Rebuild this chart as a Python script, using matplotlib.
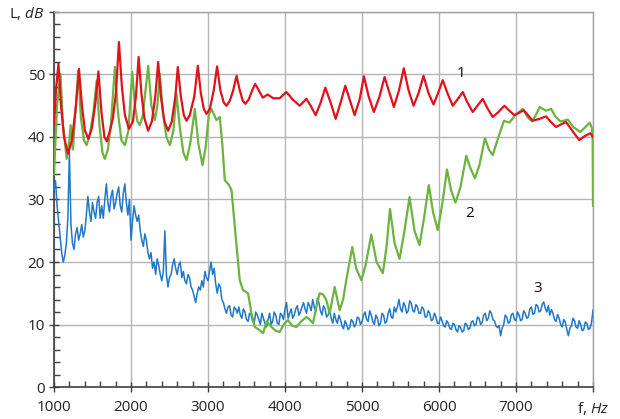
import numpy as np
import matplotlib
matplotlib.use("Agg")
import matplotlib.pyplot as plt
from matplotlib.ticker import MultipleLocator

# ---- data ----
red_f = [1000, 1026, 1058, 1091, 1130, 1182, 1233, 1285, 1324, 1363, 1402, 1447, 1493, 1538, 1577,
         1616, 1655, 1687, 1726, 1765, 1804, 1843, 1882, 1921, 1973, 2025, 2064, 2099, 2135, 2174,
         2223, 2271, 2316, 2353, 2388, 2433, 2482, 2530, 2576, 2608, 2647, 2686, 2721, 2764, 2822,
         2868, 2907, 2946, 2981, 3024, 3075, 3118, 3160, 3205, 3240, 3283, 3328, 3371, 3412, 3451,
         3484, 3529, 3575, 3613, 3711, 3776, 3847, 3931, 4018, 4100, 4191, 4278, 4333, 4398, 4463,
         4524, 4593, 4658, 4722, 4783, 4839, 4904, 4969, 5025, 5086, 5154, 5228, 5293, 5358, 5414,
         5481, 5543, 5604, 5669, 5734, 5799, 5864, 5929, 5987, 6049, 6110, 6179, 6240, 6309, 6370,
         6438, 6499, 6568, 6629, 6698, 6772, 6849, 6914, 6979, 7044, 7100, 7161, 7217, 7303, 7390,
         7453, 7520, 7582, 7650, 7731, 7822, 7874, 7930, 7965, 8000]
red_L = [42, 47.5, 51.8, 45, 40, 37.3, 39.5, 45, 50.9, 45, 41, 39.7, 41.5, 45.5, 50.5,
         44, 40, 39.3, 41, 43, 47, 55.2, 48, 43.5, 41.3, 42.5, 46.5, 52.8, 47, 43,
         41, 42.5, 46.5, 52.0, 46.5, 42.5, 41, 42.5, 46.5, 51.2, 46.5, 43.5, 42.6, 43.5, 46.5,
         51.4, 47, 44.5, 43.7, 44.5, 47.5, 51.3, 47.5, 45.5, 45, 45.8, 47.5, 49.8, 47.5, 45.8,
         45.3, 46, 47.5, 48.5, 46.3, 46.8, 46.2, 46.2, 47.2, 46, 45.0, 46.1, 45, 43.5, 45.5,
         47.9, 45.5, 42.9, 45.5, 48.2, 46, 43.5, 46, 49.7, 46.5, 44.0, 46.5, 49.6, 47, 44.8,
         47.5, 51.0, 47.5, 45.0, 47, 49.8, 47, 45.2, 47, 49.1, 47, 45.0, 46, 47.2, 45.5,
         44.0, 45, 46.1, 44.6, 43.2, 44, 45.0, 44.2, 43.5, 43.9, 44.3, 43.4, 42.6, 42.9, 43.3,
         42.4, 41.6, 42, 42.4, 41, 39.5, 40, 40.4, 40.6, 40.0]

green_f = [1000, 1039, 1084, 1117, 1165, 1195, 1217, 1246, 1279, 1315, 1350, 1389, 1424, 1467, 1512,
           1554, 1590, 1629, 1661, 1700, 1739, 1791, 1830, 1875, 1921, 1966, 2016, 2051, 2083, 2115,
           2154, 2223, 2265, 2310, 2342, 2375, 2414, 2459, 2505, 2550, 2591, 2634, 2680, 2721, 2770,
           2829, 2874, 2929, 2971, 3010, 3045, 3110, 3153, 3185, 3218, 3274, 3305, 3361, 3412, 3455,
           3520, 3564, 3607, 3659, 3715, 3763, 3824, 3879, 3931, 3983, 4039, 4093, 4148, 4210, 4278,
           4320, 4363, 4411, 4450, 4495, 4537, 4580, 4645, 4709, 4755, 4796, 4874, 4923, 4991, 5047,
           5121, 5189, 5271, 5319, 5364, 5423, 5488, 5552, 5617, 5682, 5747, 5805, 5868, 5922, 5984,
           6045, 6104, 6156, 6214, 6279, 6354, 6408, 6467, 6525, 6597, 6648, 6698, 6759, 6843, 6914,
           6992, 7087, 7148, 7206, 7258, 7307, 7390, 7455, 7511, 7576, 7621, 7671, 7744, 7835, 7894,
           7958, 7984, 7995, 8000]
green_L = [34, 45, 50.1, 42, 36.5, 39, 41.9, 38, 44, 50.6, 43, 39.5, 38.7, 40.5, 44,
           49.0, 42, 37.5, 36.5, 38, 42, 51.2, 44, 39.5, 38.7, 41, 50.4, 45, 42.5, 41.9,
           43.5, 51.4, 45, 42.7, 45, 50.1, 44, 40, 38.7, 41, 46.9, 41.5, 37.5, 36.3, 39,
           44.5, 39, 35.5, 38.5, 43.5, 44.5, 42.7, 43.2, 39, 33.1, 32.3, 31.5, 24, 17.1, 15.5,
           15.0, 11.8, 9.6, 9.2, 8.6, 10.5, 9.6, 9.0, 8.8, 10.0, 10.7, 9.8, 9.6, 10.5, 11.2,
           10.8, 10.2, 13, 15.0, 14.8, 13.9, 11.8, 16.0, 12.3, 14, 17.1, 22.4, 19, 17.1, 19.5,
           24.4, 20, 18.2, 22.5, 28.5, 23, 20.5, 25, 30.4, 25, 22.7, 27, 32.3, 28, 25.1,
           29.5, 34.8, 31.5, 29.5, 32, 37.0, 35, 33.4, 35.5, 39.8, 38, 37.1, 39.5, 42.6, 42.3,
           43.5, 44.5, 43.2, 42.5, 43.5, 44.8, 44.2, 44.5, 43.3, 42.5, 42.6, 42.8, 41.6, 40.8, 41.5,
           42.3, 41.5, 40.5, 29]

blue_f = list(range(1000, 8001, 20))
blue_L = [31.5, 33, 29, 26.5, 24, 21.5, 20, 21, 23, 27, 37.5, 26, 23, 22, 24.5, 25.5,
          23.5, 24.5, 26, 24, 25, 27.5, 30.5, 28, 26.5, 29.5, 28, 27, 29.5, 30.5, 27, 29,
          27, 30, 32.5, 29.5, 28, 30.5, 31.5, 28.5, 29.5, 31, 32, 29, 28, 31, 32.5, 29.5,
          27.5, 30, 23.5, 26.5, 29, 27.5, 26.5, 27.5, 25, 23.5, 22.5, 24.5, 23.5, 21.5, 20.5, 21.5,
          19, 20, 18, 20.5, 19.5, 18, 17, 18.5, 25, 18, 16, 17.5, 18, 19.5, 20.5, 19,
          18, 19.5, 20, 17.5, 18.5, 17, 16.5, 18, 17.5, 16, 15.5, 14.5, 13.5, 15, 16, 15.5,
          17, 16, 18.5, 17.5, 17, 18.5, 20, 18, 19, 16.5, 15, 16.5, 16, 14, 13.5, 12.5,
          11.8, 12.8, 13, 11.5, 11.2, 12.8, 12.5, 11.8, 12.8, 11.5, 11, 12.5, 12, 10.8, 10.5, 11.8,
          11.5, 10.5, 10.2, 12, 11.5, 10.8, 10, 11.8, 11, 10.2, 9.6, 10.8, 11.8, 10, 10.5, 12,
          11.5, 10.2, 10, 11.8, 11.5, 10.8, 12.5, 13.5, 11, 11.8, 12.5, 11, 11.5, 12.5, 13, 11.5,
          12, 12.8, 13.5, 12.5, 11.8, 13.5, 13, 12.2, 14, 12.8, 12, 14.2, 13.5, 12.2, 11.5, 13,
          12.5, 11.2, 11.5, 12.5, 11, 10.2, 11.8, 10.8, 10.2, 11.5, 10.8, 9.8, 9.3, 10.6, 10, 9.2,
          9.5, 10.8, 10.5, 9.6, 10, 11.2, 11, 10, 10.5, 11.5, 12, 10.8, 10.5, 12.2, 11.5, 10.5,
          10, 11.5, 11, 9.8, 10.2, 11.8, 11.5, 10.2, 10.5, 11.8, 12.5, 11.2, 11, 12.8, 12, 12.8,
          14, 12.5, 12, 13.5, 13, 11.8, 12.2, 13.8, 13.4, 12.2, 12, 13.2, 12.8, 11.8, 11.8, 12.8,
          12.5, 11.2, 11.2, 12.2, 11.8, 10.6, 10.8, 11.8, 11.2, 10.2, 10.2, 11.2, 10.6, 9.8, 9.6, 10.6,
          10.2, 9.4, 9.2, 10.2, 10, 9.2, 8.8, 9.8, 9.5, 8.8, 9, 10.2, 10, 9.2, 9.4, 10.4,
          10.6, 9.8, 10, 11.2, 11, 10, 10.3, 11.5, 11.8, 10.6, 11, 12.2, 11.8, 10.8, 10.6, 9.8,
          9.5, 9.8, 8.2, 9.4, 10, 11.5, 11.2, 10.2, 10.4, 11.6, 11.8, 10.8, 10.6, 12, 11.5, 10.6,
          10.8, 12.2, 11.8, 11, 11.2, 12.5, 12.8, 11.6, 11.8, 13.2, 13, 12, 12.2, 13.2, 13.6, 12.6,
          12, 13, 11.5, 12.4, 11.8, 10.8, 10.5, 11.6, 11, 10, 9.6, 10.8, 10.4, 9.2, 8.2, 9.4,
          9.8, 11, 10.6, 9.6, 9.4, 10.6, 10, 9, 9.2, 10.4, 10.2, 9.2, 9.4, 10.2,
          12.3]

x_ticks = [1000, 2000, 3000, 4000, 5000, 6000, 7000, 8000]
x_labels = ["1000", "2000", "3000", "4000", "5000", "6000", "7000", r"f, $\mathit{Hz}$"]
y_ticks = [0, 10, 20, 30, 40, 50, 60]
y_labels = ["0", "10", "20", "30", "40", "50", r"L, $\mathit{dB}$"]

curve_labels = ["1", "2", "3"]
label_pos = [(6280, 50.2), (6400, 27.8), (7280, 15.7)]

# ---- plotting ----
plt.rcParams["font.family"] = ["Open Sans", "DejaVu Sans"]
plt.rcParams["mathtext.fontset"] = "custom"
plt.rcParams["mathtext.it"] = "Open Sans:italic"
plt.rcParams["mathtext.rm"] = "Open Sans"

fig = plt.figure(figsize=(6.2, 4.19), dpi=100)
ax = fig.add_axes([54 / 620, 1 - 387 / 419, (593 - 54) / 620, (387 - 12) / 419])

ax.plot(blue_f[:len(blue_L)], blue_L, color="#1f78c8", lw=1.1, zorder=3)
ax.plot(green_f, green_L, color="#6cb33f", lw=1.6, zorder=4)
ax.plot(red_f, red_L, color="#e0121c", lw=1.6, zorder=5)

ax.set_xlim(1000, 8000)
ax.set_ylim(0, 60)
ax.set_xticks(x_ticks)
ax.set_xticklabels(x_labels)
ax.set_yticks(y_ticks)
ax.set_yticklabels(y_labels)
ax.xaxis.set_minor_locator(MultipleLocator(200))
ax.yaxis.set_minor_locator(MultipleLocator(2))

ax.grid(True, which="major", color="#b4b4b4", lw=1.0, zorder=0)
ax.set_axisbelow(True)

for s in ["top", "right"]:
    ax.spines[s].set_color("#a0a0a0")
    ax.spines[s].set_linewidth(1.0)
for s in ["left", "bottom"]:
    ax.spines[s].set_color("#404040")
    ax.spines[s].set_linewidth(1.2)

ax.tick_params(which="major", direction="inout", length=7, width=1.0, color="#404040",
               labelsize=11, labelcolor="#222222", pad=3)
ax.tick_params(which="minor", direction="in", length=4, width=1.0, color="#404040")
ax.tick_params(axis="x", which="major", pad=6)

for t, (fx, fy) in zip(curve_labels, label_pos):
    ax.text(fx, fy, t, fontsize=11, color="#111111", ha="center", va="center", zorder=6)

fig.savefig("out.png", dpi=100)
